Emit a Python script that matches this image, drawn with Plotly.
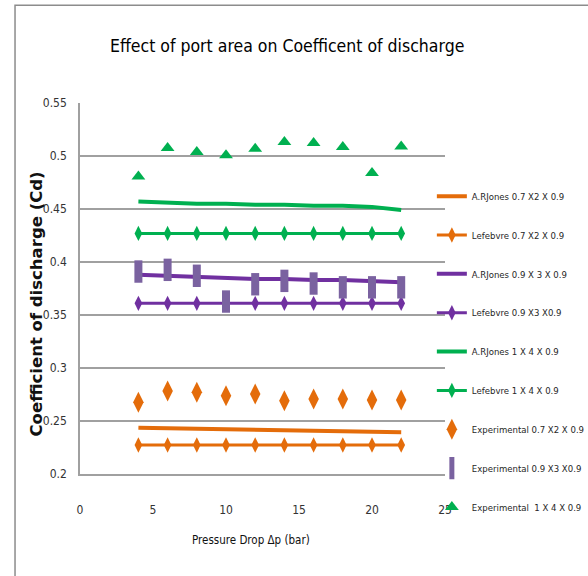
import plotly.graph_objects as go

pressure = [4, 6, 8, 10, 12, 14, 16, 18, 20, 22]

jones_07 = [0.2437, 0.2433, 0.2428, 0.2424, 0.2420, 0.2416, 0.2412, 0.2408, 0.2404, 0.2394]
lef_07 = [0.2274] * 10
jones_09 = [0.388, 0.387, 0.386, 0.385, 0.384, 0.384, 0.383, 0.383, 0.382, 0.381]
lef_09 = [0.361] * 10
jones_14 = [0.457, 0.456, 0.455, 0.455, 0.454, 0.454, 0.453, 0.453, 0.452, 0.449]
lef_14 = [0.427] * 10
exp_07 = [0.2677, 0.2784, 0.2771, 0.2739, 0.2755, 0.2692, 0.2708, 0.2708, 0.2699, 0.2699]
exp_09 = [0.391, 0.3926, 0.387, 0.3627, 0.379, 0.3822, 0.3797, 0.3761, 0.3761, 0.3761]
exp_14 = [0.4807, 0.5076, 0.5038, 0.5006, 0.5069, 0.5132, 0.5123, 0.5085, 0.484, 0.509]

y_ticks = [0.2, 0.25, 0.3, 0.35, 0.4, 0.45, 0.5, 0.55]
y_ticktext = ["0.2", "0.25", "0.3", "0.35", "0.4", "0.45", "0.5", "0.55"]
x_ticks = [0, 5, 10, 15, 20, 25]

ORANGE = "#E46C0A"
PURPLE = "#7030A0"
GREEN = "#00B050"
SQ = "#7A62A0"

NARROW = "Liberation Sans Narrow, DejaVu Sans Condensed, Arial Narrow, sans-serif"

fig = go.Figure()

def add_line(y, name, color, width, grp):
    fig.add_trace(go.Scatter(x=pressure, y=y, name=name, mode="lines",
                             line=dict(color=color, width=width), legendgroup=grp))

def add_lef(y, name, color, grp):
    fig.add_trace(go.Scatter(x=pressure, y=y, name=name, mode="lines+markers",
                             line=dict(color=color, width=3),
                             marker=dict(symbol="diamond-tall", size=11, color=color),
                             legendgroup=grp))

add_line(jones_07, "A.RJones 0.7 X2 X 0.9", ORANGE, 4, "a")
add_lef(lef_07, "Lefebvre 0.7 X2 X 0.9", ORANGE, "b")
add_line(jones_09, "A.RJones 0.9 X 3 X 0.9", PURPLE, 4, "c")
add_lef(lef_09, "Lefebvre 0.9 X3 X0.9", PURPLE, "d")
add_line(jones_14, "A.RJones 1 X 4 X 0.9", GREEN, 4, "e")
add_lef(lef_14, "Lefebvre 1 X 4 X 0.9", GREEN, "f")

fig.add_trace(go.Scatter(x=pressure, y=exp_07, name="Experimental 0.7 X2 X 0.9", mode="markers",
                         marker=dict(symbol="diamond-tall", size=15, color=ORANGE), legendgroup="g"))
fig.add_trace(go.Scatter(x=pressure, y=exp_09, name="Experimental 0.9 X3 X0.9", mode="markers",
                         marker=dict(symbol="line-ns", size=16, color=SQ,
                                     line=dict(color=SQ, width=8)), legendgroup="h"))
fig.add_trace(go.Scatter(x=pressure, y=exp_14, name="Experimental  1 X 4 X 0.9", mode="markers",
                         marker=dict(symbol="triangle-up", size=12, color=GREEN), legendgroup="i"))

fig.update_layout(
    width=588, height=576,
    margin=dict(l=80, r=143, t=103, b=102, autoexpand=False),
    paper_bgcolor="white", plot_bgcolor="white",
    showlegend=True,
    legend=dict(x=0.964, y=0.788, xanchor="left", yanchor="top",
                font=dict(family=NARROW, size=9.5, color="#262626"),
                bgcolor="rgba(0,0,0,0)", tracegroupgap=19.85, itemwidth=30),
    xaxis=dict(range=[0, 25], tickvals=x_ticks, showgrid=False, zeroline=False,
               showline=True, linecolor="#A0A0A0", linewidth=1.5,
               ticks="", ticklabelstandoff=24,
               tickfont=dict(family=NARROW, size=12, color="#333333")),
    yaxis=dict(range=[0.2, 0.55], tickvals=y_ticks, ticktext=y_ticktext,
               showgrid=True, gridcolor="#A0A0A0", gridwidth=1.5, zeroline=False,
               showline=True, linecolor="#A0A0A0", linewidth=1.5,
               ticks="", ticklabelstandoff=9,
               tickfont=dict(family=NARROW, size=12, color="#333333")),
    shapes=[dict(type="rect", xref="paper", yref="paper",
                 x0=-0.178, x1=2.0, y0=-0.6, y1=1.2633,
                 line=dict(color="#8C8C8C", width=1.5), fillcolor="rgba(0,0,0,0)", layer="below")],
    annotations=[
        dict(text="Effect of port area on Coefficent of discharge", xref="paper", yref="paper",
             x=0.567, y=1, yshift=57, xanchor="center", yanchor="middle", showarrow=False,
             font=dict(family=NARROW, size=17.5, color="#000000")),
        dict(text="Pressure Drop Δp (bar)", xref="paper", yref="paper",
             x=0.468, y=0, yshift=-66, xanchor="center", yanchor="middle", showarrow=False,
             font=dict(family=NARROW, size=11.5, color="#111111")),
        dict(text="<b>Coefficient of discharge (Cd)</b>", xref="paper", yref="paper",
             x=0, xshift=-44, y=0.5, yshift=-16, xanchor="center", yanchor="middle",
             textangle=-90, showarrow=False,
             font=dict(family="DejaVu Sans", size=16.5, color="#111111")),
    ],
)

fig.write_html("out.html")
